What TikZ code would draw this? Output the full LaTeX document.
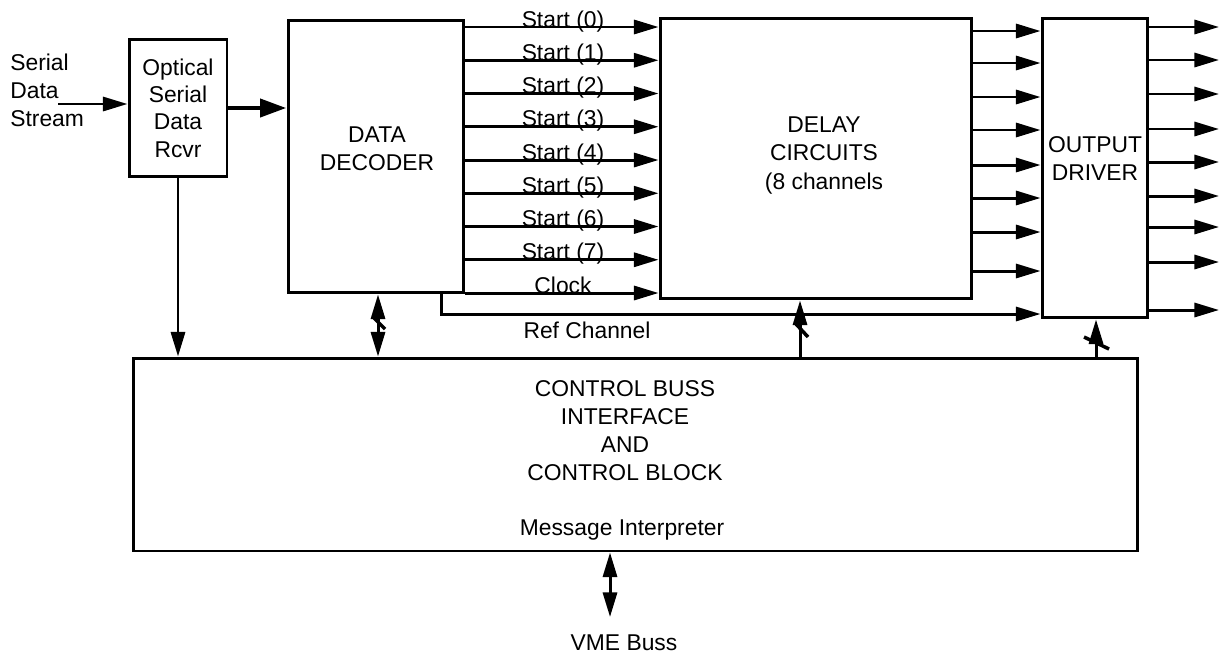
\documentclass[tikz,border=0pt]{standalone}
\usepackage{fontspec}
\setmainfont{Liberation Sans}
\usetikzlibrary{arrows.meta}

\begin{document}
\begin{tikzpicture}[x=0.02cm, y=-0.02cm,
    every node/.style={font=\fontsize{13}{16}\selectfont},
    blk/.style={draw, line width=1.7pt, inner sep=0pt, align=center},
    txt/.style={align=center, inner sep=0pt},
    sig/.style={line width=1.7pt, -{Triangle[length=14pt, width=8pt]}},
    dsig/.style={line width=1.7pt, {Triangle[length=14pt, width=8pt]}-{Triangle[length=14pt, width=8pt]}},
    bus/.style={line width=2pt}]

  \useasboundingbox (0,0) rectangle (1222,653);

  % ========== blocks ==========
  \node[blk, minimum width=1.96cm, minimum height=2.76cm] (rcvr) at (178,108)
       {Optical\\[-0.5pt]Serial\\[-0.5pt]Data\\[-0.5pt]Rcvr};
  \node[blk, minimum width=3.52cm, minimum height=5.46cm] (dec) at (376,156.5) {};
  \node[blk, minimum width=6.24cm, minimum height=5.62cm] (delay) at (816,158.5) {};
  \node[blk, minimum width=2.1cm, minimum height=6cm] (drv) at (1094.5,168) {};
  \node[blk, minimum width=20.1cm, minimum height=3.86cm] (ctrl) at (635.5,454.5) {};

  % texts inside the blocks
  \node[txt] (dectxt) at (377,148.5) {DATA\\DECODER};
  \node[txt] (delaytxt) at (824,155.5) {DELAY\\CIRCUITS\\(8 channels};
  \node[txt] (drvtxt) at (1095,158.5) {OUTPUT\\DRIVER};
  \node[txt] (ctrltxt) at (625,430.5) {CONTROL BUSS\\INTERFACE\\AND\\CONTROL BLOCK};
  \node[txt] (msg) at (622,530) {Message Interpreter};

  % ========== input ==========
  \node[txt, anchor=west, align=left] (serial) at (10,90.5) {Serial\\Data\\Stream};
  \coordinate (inp) at (58,104);
  \draw[sig] (inp) -- (rcvr.west |- inp);
  \draw[line width=2.8pt, -{Triangle[length=15pt, width=10pt]}]
       (rcvr.east) -- (rcvr.east -| dec.west);

  % ========== decoder -> delay ==========
  \foreach \i/\name in {0/Start (0),1/Start (1),2/Start (2),3/Start (3),
                        4/Start (4),5/Start (5),6/Start (6),7/Start (7),8/Clock} {
    \coordinate (s\i) at (0,27+33.25*\i);
    \draw[sig] (dec.east |- s\i) -- (delay.west |- s\i);
    \node[anchor=base, inner sep=0pt] (sl\i) at (563,27+33.25*\i) {\name};
  }

  % ref channel
  \coordinate (refy) at (441,314);
  \draw[sig] (dec.south -| refy) |- (drv.west |- refy);
  \node[txt] (reflbl) at (587,330) {Ref Channel};

  % ========== delay -> driver -> out ==========
  \foreach \y [count=\i] in {31,63,97,130,165,198,232,271} {
    \coordinate (d\i) at (0,\y);
    \draw[sig] (delay.east |- d\i) -- (drv.west |- d\i);
  }
  \foreach \y [count=\i] in {27,60,94,129,162,196,227,262,310} {
    \coordinate (o\i) at (1219,\y);
    \draw[sig] (drv.east |- o\i) -- (o\i);
  }

  % ========== control connections ==========
  \draw[sig] (rcvr.south) -- (rcvr.south |- ctrl.north);

  \coordinate (decx) at (378,323);
  \draw[dsig] (dec.south -| decx) -- (ctrl.north -| decx);
  \draw[bus] ([shift={(-5,-6)}]decx) -- ([shift={(7,6)}]decx);

  \coordinate (dlyx) at (800,331);
  \draw[sig] (ctrl.north -| dlyx) -- (delay.south -| dlyx);
  \draw[bus] ([shift={(-4,-7)}]dlyx) -- ([shift={(8,6)}]dlyx);

  \coordinate (drvx) at (1096,343);
  \draw[sig] (ctrl.north -| drvx) -- (drv.south -| drvx);
  \draw[bus] ([shift={(-12,-6)}]drvx) -- ([shift={(13,6)}]drvx);

  % VME buss
  \node[txt] (vme) at (624,643) {VME Buss};
  \coordinate (vmeend) at (610,617);
  \draw[dsig] (ctrl.south -| vmeend) -- (vmeend);

\end{tikzpicture}
\end{document}
